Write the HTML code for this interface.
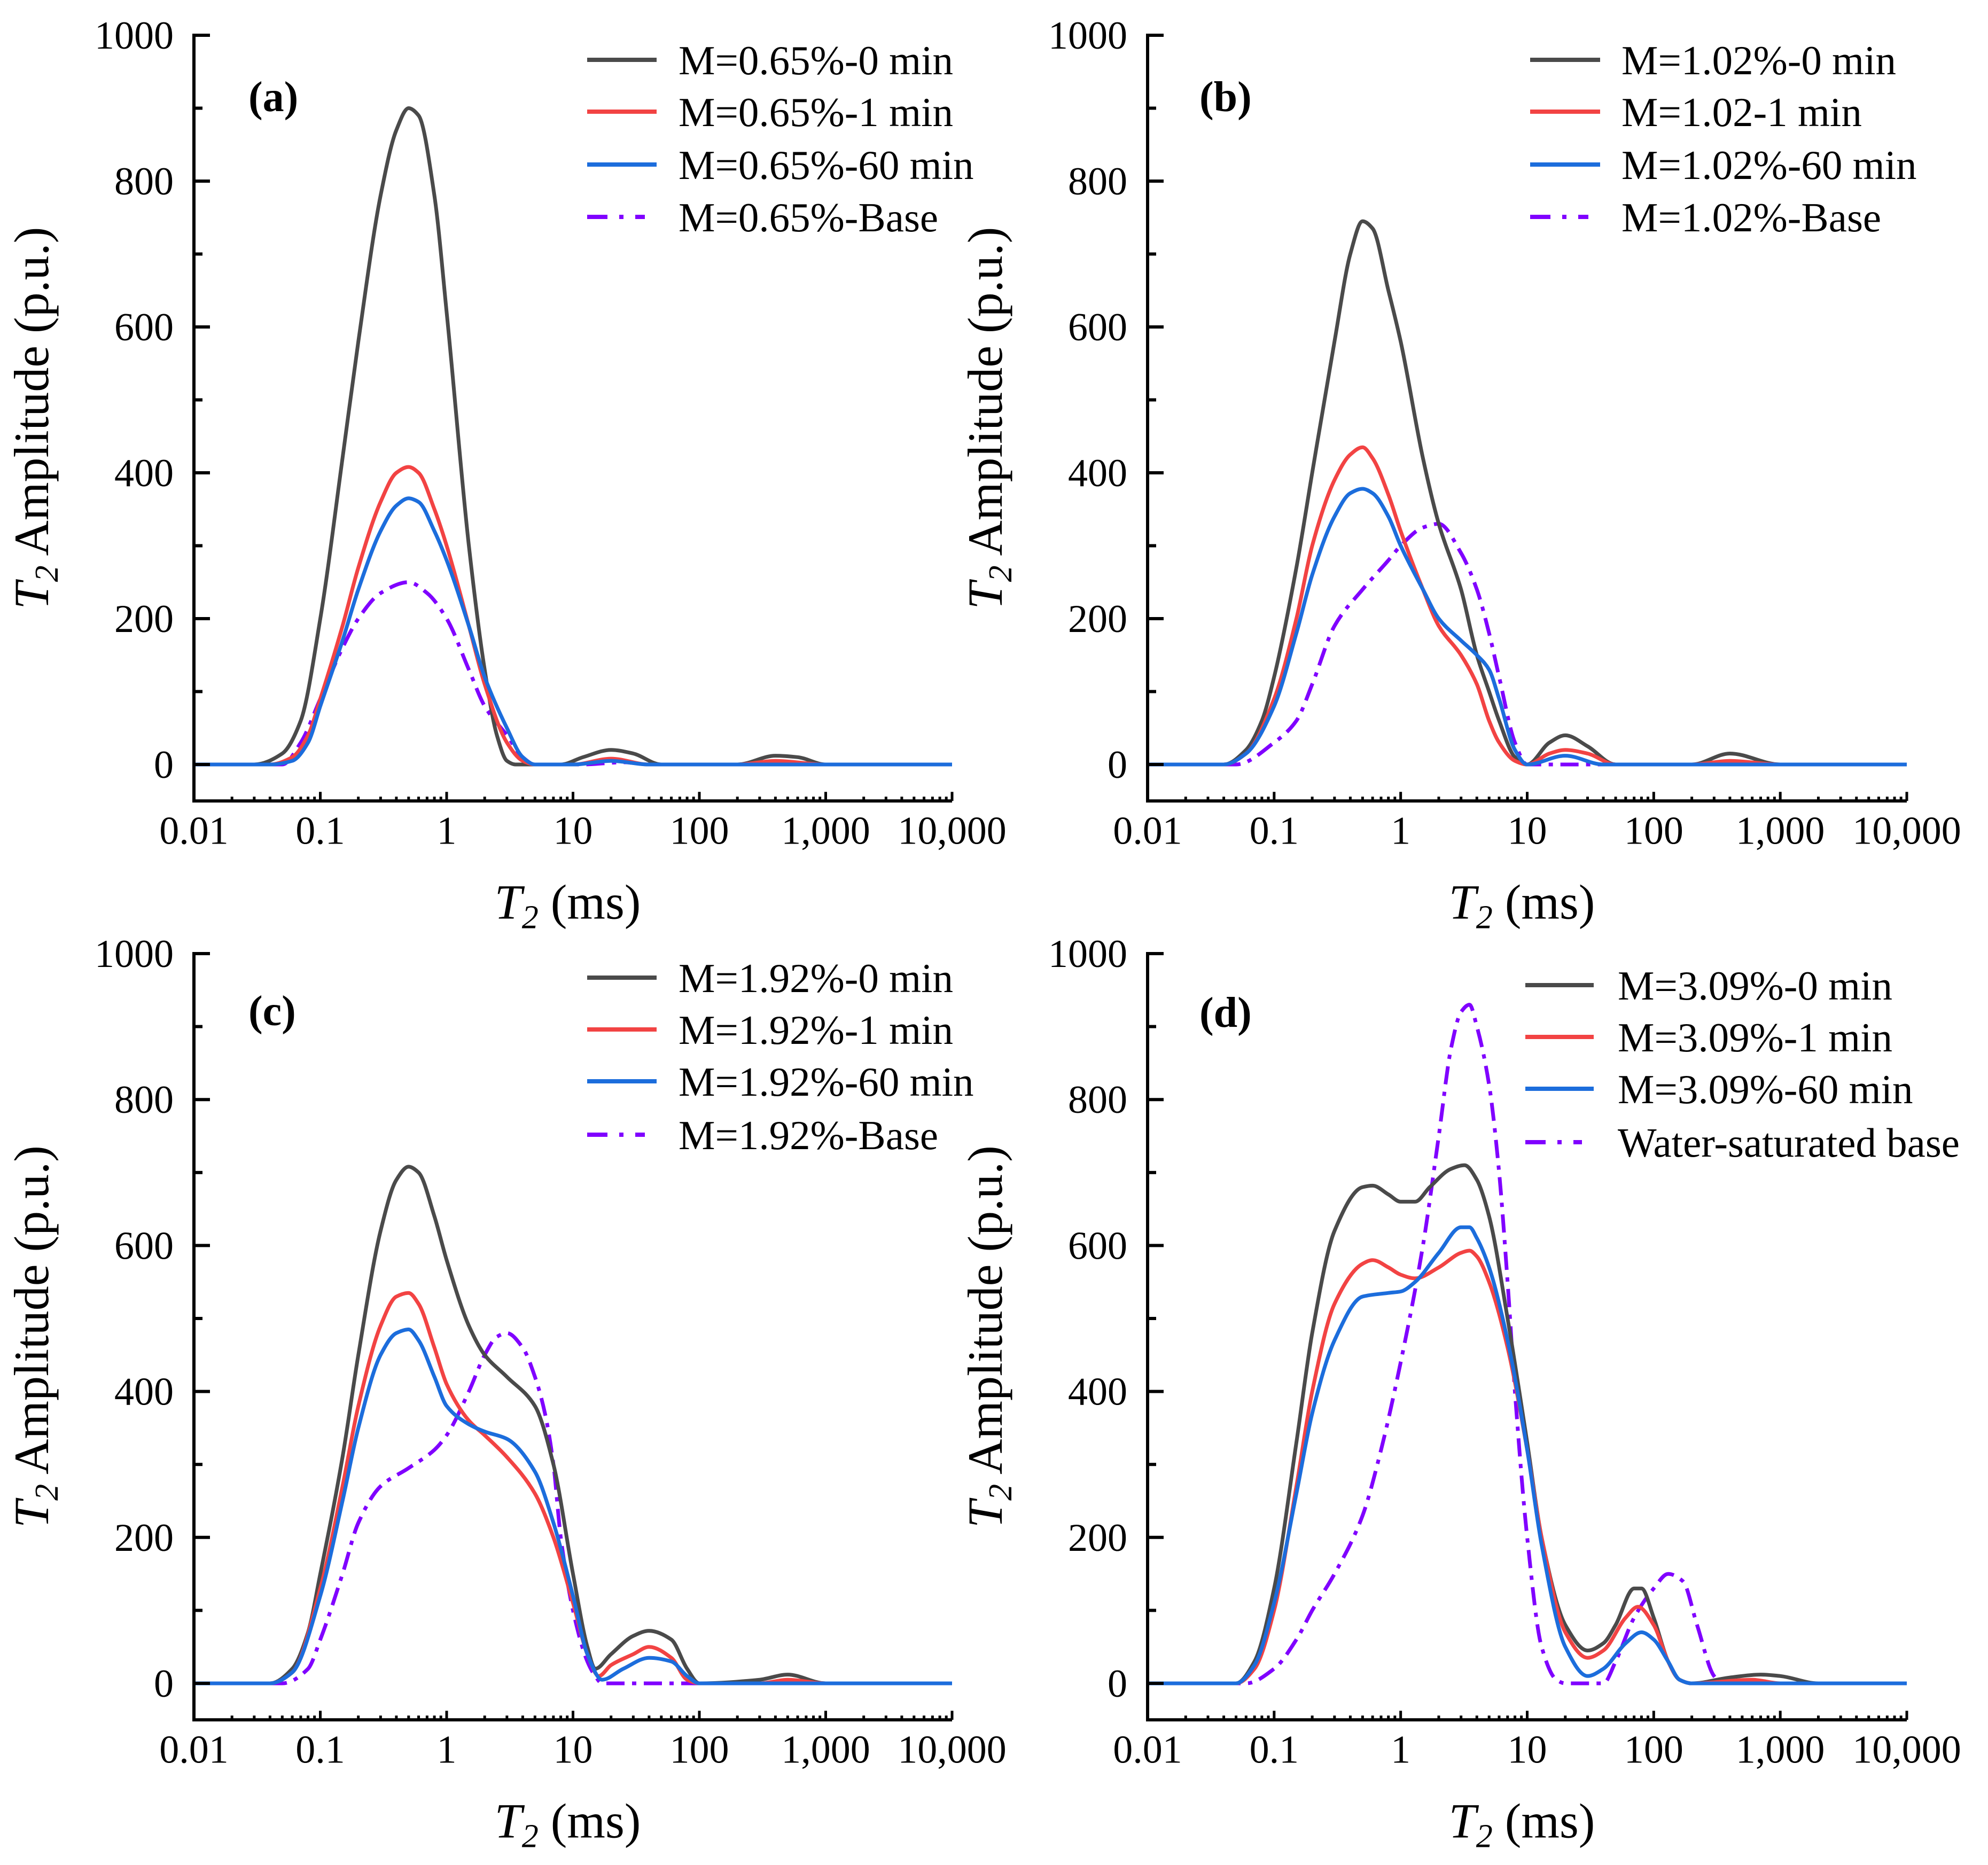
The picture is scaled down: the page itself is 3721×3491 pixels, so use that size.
<!DOCTYPE html>
<html><head><meta charset="utf-8"><style>
html,body{margin:0;padding:0;background:#fff}
svg{display:block}
text{font-family:"Liberation Serif","Times New Roman",serif;fill:#000}
</style></head><body>
<svg id="fig" width="3721" height="3491" viewBox="0 0 3721 3491" xmlns="http://www.w3.org/2000/svg"></svg>
<script>
// ---- data: [T2 (ms), amplitude] ----
const aBlack=[[0.01,0],[0.03,0],[0.05,15],[0.07,60],[0.1,200],[0.15,420],[0.2,580],[0.3,780],[0.4,870],[0.5,900],[0.6,890],[0.8,780],[1,620],[1.5,300],[2,130],[2.5,40],[3,5],[3.5,0],[8,0],[12,10],[20,20],[30,15],[50,0],[200,0],[400,12],[600,10],[1000,0],[10000,0]];
const aRed=[[0.01,0],[0.04,0],[0.06,10],[0.08,40],[0.1,90],[0.15,190],[0.2,270],[0.3,360],[0.4,400],[0.5,408],[0.6,400],[0.8,350],[1,300],[1.5,190],[2,110],[3,30],[4,5],[5,0],[10,0],[20,8],[40,0],[200,0],[400,5],[1000,0],[10000,0]];
const aBlue=[[0.01,0],[0.04,0],[0.06,5],[0.08,30],[0.1,80],[0.15,170],[0.2,240],[0.3,320],[0.4,355],[0.5,365],[0.6,360],[0.8,320],[1,280],[1.5,190],[2,120],[3,50],[4,10],[5,0],[10,0],[20,5],[40,0],[10000,0]];
const aBase=[[0.01,0],[0.05,0],[0.07,30],[0.1,90],[0.15,160],[0.2,200],[0.3,235],[0.5,250],[0.7,235],[1,200],[1.5,130],[2,80],[3,40],[4,10],[5,0],[12,0],[25,3],[40,0],[10000,0]];

const bBlack=[[0.01,0],[0.04,0],[0.06,20],[0.08,60],[0.1,120],[0.15,270],[0.2,400],[0.3,580],[0.4,700],[0.5,745],[0.6,735],[0.8,650],[1,580],[1.5,420],[2,330],[3,240],[4,150],[5,100],[6,60],[8,10],[10,0],[15,30],[20,40],[30,25],[50,0],[200,0],[400,15],[1000,0],[10000,0]];
const bRed=[[0.01,0],[0.04,0],[0.06,15],[0.1,90],[0.15,200],[0.2,300],[0.3,390],[0.4,425],[0.5,435],[0.6,420],[0.8,370],[1,320],[1.5,240],[2,190],[3,150],[4,110],[5,60],[6,30],[8,5],[10,0],[15,15],[20,20],[30,15],[50,0],[200,0],[400,5],[1000,0],[10000,0]];
const bBlue=[[0.01,0],[0.04,0],[0.06,15],[0.1,80],[0.15,180],[0.2,260],[0.3,340],[0.4,372],[0.5,378],[0.6,372],[0.8,340],[1,300],[1.5,240],[2,200],[3,170],[4,150],[5,130],[6,90],[8,20],[10,0],[20,12],[40,0],[10000,0]];
const bBase=[[0.01,0],[0.05,0],[0.1,30],[0.15,60],[0.2,110],[0.3,190],[0.5,240],[0.8,280],[1,300],[1.5,325],[2,330],[3,290],[4,240],[5,180],[6,120],[8,30],[10,0],[10000,0]];

const cBlack=[[0.01,0],[0.04,0],[0.06,20],[0.08,70],[0.1,150],[0.15,310],[0.2,450],[0.3,620],[0.4,690],[0.5,708],[0.6,700],[0.8,640],[1,580],[1.5,490],[2,450],[3,420],[5,380],[7,300],[10,150],[13,50],[15,20],[20,40],[30,65],[40,72],[60,60],[80,20],[100,0],[300,5],[500,12],[1000,0],[10000,0]];
const cRed=[[0.01,0],[0.04,0],[0.06,15],[0.1,130],[0.15,270],[0.2,380],[0.3,490],[0.4,530],[0.5,535],[0.6,520],[0.8,460],[1,410],[1.5,360],[2,340],[3,310],[5,260],[7,200],[10,110],[13,40],[16,10],[20,25],[30,40],[40,50],[60,35],[80,5],[100,0],[300,0],[500,5],[1000,0],[10000,0]];
const cBlue=[[0.01,0],[0.04,0],[0.06,15],[0.1,120],[0.15,250],[0.2,350],[0.3,450],[0.4,480],[0.5,485],[0.6,470],[0.8,420],[1,380],[1.5,355],[2,345],[3,335],[5,290],[7,220],[10,120],[13,40],[17,5],[25,20],[40,35],[60,30],[80,10],[100,0],[10000,0]];
const cBase=[[0.01,0],[0.05,0],[0.08,20],[0.1,60],[0.15,150],[0.2,220],[0.3,270],[0.5,295],[0.8,320],[1,340],[1.5,400],[2,450],[2.5,475],[3,480],[4,460],[5,420],[6,370],[7,300],[8,200],[10,100],[13,30],[15,10],[17,0],[10000,0]];

const dBlack=[[0.01,0],[0.05,0],[0.07,30],[0.1,130],[0.15,330],[0.2,480],[0.3,620],[0.5,680],[0.6,682],[0.8,670],[1,660],[1.3,660],[1.7,680],[2.5,705],[3.2,710],[4,690],[5,640],[7,500],[10,330],[13,200],[20,80],[30,45],[40,55],[50,80],[70,130],[80,130],[100,90],[130,30],[160,5],[200,0],[400,8],[700,12],[1000,10],[2000,0],[10000,0]];
const dRed=[[0.01,0],[0.05,0],[0.07,20],[0.1,100],[0.15,270],[0.2,400],[0.3,520],[0.5,575],[0.6,580],[0.8,570],[1,560],[1.3,555],[2,570],[3,590],[3.5,593],[4,585],[5,550],[7,460],[10,320],[13,200],[20,70],[30,35],[40,45],[60,90],[75,105],[100,80],[130,30],[160,5],[200,0],[600,5],[1000,0],[10000,0]];
const dBlue=[[0.01,0],[0.05,0],[0.07,25],[0.1,110],[0.15,260],[0.2,370],[0.3,470],[0.5,530],[0.8,535],[1,537],[1.3,550],[2,590],[3,625],[3.5,625],[4,610],[5,570],[7,470],[10,320],[13,190],[20,50],[30,10],[40,20],[60,55],[80,70],[100,60],[130,30],[160,5],[200,0],[10000,0]];
const dBase=[[0.01,0],[0.06,0],[0.1,20],[0.15,60],[0.2,100],[0.3,150],[0.5,230],[0.7,320],[1,440],[1.5,600],[2,750],[2.5,870],[3,920],[3.5,930],[4,900],[5,820],[6,700],[7,550],[8,400],[10,200],[13,50],[17,5],[20,0],[40,0],[50,30],[70,90],[100,130],[130,150],[170,140],[220,80],[300,10],[350,0],[10000,0]];

const xTickLabels=["0.01","0.1","1","10","100","1,000","10,000"];
const yTickValues=[0,200,400,600,800,1000];
const yTickLabels=["0","200","400","600","800","1000"];

const NS="http://www.w3.org/2000/svg";
const svg=document.getElementById('fig');
function el(tag,attrs,parent,txt){const e=document.createElementNS(NS,tag);for(const k in attrs)e.setAttribute(k,attrs[k]);if(txt!==undefined)e.textContent=txt;(parent||svg).appendChild(e);return e;}

const COLORS={black:"#4a4a4a",red:"#f24343",blue:"#1c6ddc",base:"#8000ff"};

function monotonePath(pts){
  const n=pts.length;if(n<2)return "";
  const dx=[],dy=[],m=[];
  for(let i=0;i<n-1;i++){dx.push(pts[i+1][0]-pts[i][0]);dy.push(pts[i+1][1]-pts[i][1]);m.push(dy[i]/dx[i]);}
  const t=[m[0]];
  for(let i=1;i<n-1;i++){if(m[i-1]*m[i]<=0)t.push(0);else{const w1=2*dx[i]+dx[i-1],w2=dx[i]+2*dx[i-1];t.push((w1+w2)/(w1/m[i-1]+w2/m[i]));}}
  t.push(m[n-2]);
  let d="M"+pts[0][0].toFixed(1)+","+pts[0][1].toFixed(1);
  for(let i=0;i<n-1;i++){const h=dx[i]/3;
    d+="C"+(pts[i][0]+h).toFixed(1)+","+(pts[i][1]+t[i]*h).toFixed(1)+" "+(pts[i+1][0]-h).toFixed(1)+","+(pts[i+1][1]-t[i+1]*h).toFixed(1)+" "+pts[i+1][0].toFixed(1)+","+pts[i+1][1].toFixed(1);}
  return d;
}

function panel(cfg){
  const g=el('g',{});
  
  
  const x0=cfg.left,x1=cfg.right,yZero=cfg.zero,yTop=cfg.top;
  const X=v=>x0+(Math.log10(v)+2)/6*(x1-x0);
  const Y=v=>yZero-v/1000*(yZero-yTop);
  const yBot=Y(-50);
  // series
  const series=[[cfg.data[0],COLORS.black,null,'black-0min'],[cfg.data[1],COLORS.red,null,'red-1min'],[cfg.data[2],COLORS.blue,null,'blue-60min'],[cfg.data[3],COLORS.base,"34,14,8,14",'base']];
  const order=[3,0,1,2];
  for(const i of order){const s=series[i];
    const p=el('path',{d:monotonePath(s[0].map(q=>[X(q[0]),Y(q[1])])),fill:"none",stroke:s[1],"stroke-width":7,"stroke-linejoin":"round","stroke-dasharray":s[2]||"none"},g);
    
    
  }
  // axes
  const ax=el('path',{d:`M${x0},${yTop-3}V${yBot}H${x1}`,fill:"none",stroke:"#000","stroke-width":6},g);
  
  
  // y ticks
  for(let v=0;v<=1000;v+=100){const len=v%200===0?30:16;el('line',{x1:x0,x2:x0+len,y1:Y(v),y2:Y(v),stroke:"#000","stroke-width":6},g);}
  yTickValues.forEach((v,i)=>{const t=el('text',{x:x0-38,y:Y(v)+25,"font-size":74,"text-anchor":"end"},g,yTickLabels[i]);
    
    });
  // x ticks
  for(let e=-2;e<=4;e++){for(let k=1;k<=9;k++){if(e===4&&k>1)break;const v=k*Math.pow(10,e);const len=k===1?17:8;el('line',{x1:X(v),x2:X(v),y1:yBot,y2:yBot-len,stroke:"#000","stroke-width":5},g);}}
  xTickLabels.forEach((lab,i)=>{const t=el('text',{x:x0+i*(x1-x0)/6,y:yBot+80,"font-size":74,"text-anchor":"middle"},g,lab);
    
    });
  // axis titles
  const xt=el('text',{x:(x0+x1)/2-10,y:yBot+220,"font-size":92,"text-anchor":"middle"},g);
  
  
  el('tspan',{"font-style":"italic"},xt,"T");el('tspan',{"font-style":"italic","font-size":62,dy:18},xt,"2");el('tspan',{dy:-18},xt," (ms)");
  const cy=(yTop+yBot)/2;const cx=x0-273;
  const yt=el('text',{x:cx,y:cy,"font-size":92,"text-anchor":"middle",transform:`rotate(-90 ${cx} ${cy})`},g);
  
  
  el('tspan',{"font-style":"italic"},yt,"T");el('tspan',{"font-style":"italic","font-size":62,dy:18},yt,"2");el('tspan',{dy:-18},yt," Amplitude (p.u.)");
  // panel label
  const pl=el('text',{x:cfg.lab[0],y:cfg.lab[1],"font-size":80,"font-weight":"bold"},g,"("+cfg.id+")");
  
  
  // legend
  const lg=el('g',{},g);
  
  
  cfg.legend.forEach((txt,i)=>{const yy=cfg.legY[i];const s=series[i];
    const e=el('g',{},lg);
    
    
    if(i<3)el('line',{x1:cfg.legX[0],x2:cfg.legX[1],y1:yy,y2:yy,stroke:s[1],"stroke-width":8},e);
    else el('line',{x1:cfg.legX[0],x2:cfg.legX[1]-22,y1:yy,y2:yy,stroke:s[1],"stroke-width":8,"stroke-dasharray":"38,22,8,22"},e);
    el('text',{x:cfg.legX[2],y:yy+27,"font-size":77},e,txt);});
}

panel({id:"a",left:363,right:1782,top:66,zero:1431,lab:[465,208],data:[aBlack,aRed,aBlue,aBase],
  legend:["M=0.65%-0 min","M=0.65%-1 min","M=0.65%-60 min","M=0.65%-Base"],legY:[112,209,308,406],legX:[1099,1229,1270]});
panel({id:"b",left:2148,right:3569,top:66,zero:1431,lab:[2245,208],data:[bBlack,bRed,bBlue,bBase],
  legend:["M=1.02%-0 min","M=1.02-1 min","M=1.02%-60 min","M=1.02%-Base"],legY:[112,209,308,406],legX:[2864,2995,3035]});
panel({id:"c",left:363,right:1782,top:1785,zero:3151,lab:[465,1919],data:[cBlack,cRed,cBlue,cBase],
  legend:["M=1.92%-0 min","M=1.92%-1 min","M=1.92%-60 min","M=1.92%-Base"],legY:[1830,1927,2024,2124],legX:[1099,1229,1270]});
panel({id:"d",left:2148,right:3569,top:1785,zero:3151,lab:[2245,1922],data:[dBlack,dRed,dBlue,dBase],
  legend:["M=3.09%-0 min","M=3.09%-1 min","M=3.09%-60 min","Water-saturated base"],legY:[1844,1941,2038,2138],legX:[2855,2983,3028]});
</script>
</body></html>
